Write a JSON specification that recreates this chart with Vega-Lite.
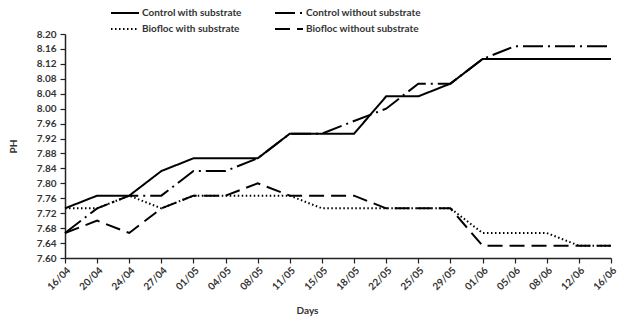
{
  "$schema": "https://vega.github.io/schema/vega-lite/v6.json",
  "autosize": {"type": "none"},
  "width": 546,
  "height": 224,
  "padding": {"left": 65, "top": 34, "right": 13, "bottom": 65},
  "background": "white",
  "config": {
    "view": {"stroke": null},
    "font": "Lato",
    "axis": {
      "domainColor": "#222", "domainWidth": 1.5, "tickColor": "#222", "tickWidth": 1.2,
      "labelFont": "Lato", "labelFontWeight": "bold", "labelColor": "#333", "labelFontSize": 10,
      "titleFont": "Lato", "titleFontWeight": "bold", "titleColor": "#333", "titleFontSize": 10,
      "grid": false
    },
    "legend": {
      "labelFont": "Lato", "labelFontWeight": "bold", "labelColor": "#333", "labelFontSize": 10
    }
  },
  "data": {
    "values": [
      {"date": "16/04", "series": "Control with substrate", "ph": 7.733},
      {"date": "20/04", "series": "Control with substrate", "ph": 7.767},
      {"date": "24/04", "series": "Control with substrate", "ph": 7.767},
      {"date": "27/04", "series": "Control with substrate", "ph": 7.833},
      {"date": "01/05", "series": "Control with substrate", "ph": 7.867},
      {"date": "04/05", "series": "Control with substrate", "ph": 7.867},
      {"date": "08/05", "series": "Control with substrate", "ph": 7.867},
      {"date": "11/05", "series": "Control with substrate", "ph": 7.933},
      {"date": "15/05", "series": "Control with substrate", "ph": 7.933},
      {"date": "18/05", "series": "Control with substrate", "ph": 7.933},
      {"date": "22/05", "series": "Control with substrate", "ph": 8.033},
      {"date": "25/05", "series": "Control with substrate", "ph": 8.033},
      {"date": "29/05", "series": "Control with substrate", "ph": 8.067},
      {"date": "01/06", "series": "Control with substrate", "ph": 8.133},
      {"date": "05/06", "series": "Control with substrate", "ph": 8.133},
      {"date": "08/06", "series": "Control with substrate", "ph": 8.133},
      {"date": "12/06", "series": "Control with substrate", "ph": 8.133},
      {"date": "16/06", "series": "Control with substrate", "ph": 8.133},

      {"date": "16/04", "series": "Control without substrate", "ph": 7.667},
      {"date": "20/04", "series": "Control without substrate", "ph": 7.733},
      {"date": "24/04", "series": "Control without substrate", "ph": 7.767},
      {"date": "27/04", "series": "Control without substrate", "ph": 7.767},
      {"date": "01/05", "series": "Control without substrate", "ph": 7.833},
      {"date": "04/05", "series": "Control without substrate", "ph": 7.833},
      {"date": "08/05", "series": "Control without substrate", "ph": 7.867},
      {"date": "11/05", "series": "Control without substrate", "ph": 7.933},
      {"date": "15/05", "series": "Control without substrate", "ph": 7.933},
      {"date": "18/05", "series": "Control without substrate", "ph": 7.967},
      {"date": "22/05", "series": "Control without substrate", "ph": 8.0},
      {"date": "25/05", "series": "Control without substrate", "ph": 8.067},
      {"date": "29/05", "series": "Control without substrate", "ph": 8.067},
      {"date": "01/06", "series": "Control without substrate", "ph": 8.133},
      {"date": "05/06", "series": "Control without substrate", "ph": 8.167},
      {"date": "08/06", "series": "Control without substrate", "ph": 8.167},
      {"date": "12/06", "series": "Control without substrate", "ph": 8.167},
      {"date": "16/06", "series": "Control without substrate", "ph": 8.167},

      {"date": "16/04", "series": "Biofloc with substrate", "ph": 7.733},
      {"date": "20/04", "series": "Biofloc with substrate", "ph": 7.733},
      {"date": "24/04", "series": "Biofloc with substrate", "ph": 7.767},
      {"date": "27/04", "series": "Biofloc with substrate", "ph": 7.733},
      {"date": "01/05", "series": "Biofloc with substrate", "ph": 7.767},
      {"date": "04/05", "series": "Biofloc with substrate", "ph": 7.767},
      {"date": "08/05", "series": "Biofloc with substrate", "ph": 7.767},
      {"date": "11/05", "series": "Biofloc with substrate", "ph": 7.767},
      {"date": "15/05", "series": "Biofloc with substrate", "ph": 7.733},
      {"date": "18/05", "series": "Biofloc with substrate", "ph": 7.733},
      {"date": "22/05", "series": "Biofloc with substrate", "ph": 7.733},
      {"date": "25/05", "series": "Biofloc with substrate", "ph": 7.733},
      {"date": "29/05", "series": "Biofloc with substrate", "ph": 7.733},
      {"date": "01/06", "series": "Biofloc with substrate", "ph": 7.667},
      {"date": "05/06", "series": "Biofloc with substrate", "ph": 7.667},
      {"date": "08/06", "series": "Biofloc with substrate", "ph": 7.667},
      {"date": "12/06", "series": "Biofloc with substrate", "ph": 7.633},
      {"date": "16/06", "series": "Biofloc with substrate", "ph": 7.633},

      {"date": "16/04", "series": "Biofloc without substrate", "ph": 7.667},
      {"date": "20/04", "series": "Biofloc without substrate", "ph": 7.7},
      {"date": "24/04", "series": "Biofloc without substrate", "ph": 7.667},
      {"date": "27/04", "series": "Biofloc without substrate", "ph": 7.733},
      {"date": "01/05", "series": "Biofloc without substrate", "ph": 7.767},
      {"date": "04/05", "series": "Biofloc without substrate", "ph": 7.767},
      {"date": "08/05", "series": "Biofloc without substrate", "ph": 7.8},
      {"date": "11/05", "series": "Biofloc without substrate", "ph": 7.767},
      {"date": "15/05", "series": "Biofloc without substrate", "ph": 7.767},
      {"date": "18/05", "series": "Biofloc without substrate", "ph": 7.767},
      {"date": "22/05", "series": "Biofloc without substrate", "ph": 7.733},
      {"date": "25/05", "series": "Biofloc without substrate", "ph": 7.733},
      {"date": "29/05", "series": "Biofloc without substrate", "ph": 7.733},
      {"date": "01/06", "series": "Biofloc without substrate", "ph": 7.633},
      {"date": "05/06", "series": "Biofloc without substrate", "ph": 7.633},
      {"date": "08/06", "series": "Biofloc without substrate", "ph": 7.633},
      {"date": "12/06", "series": "Biofloc without substrate", "ph": 7.633},
      {"date": "16/06", "series": "Biofloc without substrate", "ph": 7.633}
    ]
  },
  "mark": {"type": "line", "color": "black", "strokeWidth": 2},
  "encoding": {
    "x": {
      "field": "date", "type": "ordinal",
      "sort": ["16/04","20/04","24/04","27/04","01/05","04/05","08/05","11/05","15/05","18/05","22/05","25/05","29/05","01/06","05/06","08/06","12/06","16/06"],
      "scale": {"type": "point", "padding": 0},
      "axis": {"title": "Days", "labelAngle": -45, "labelAlign": "right", "labelBaseline": "top", "labelPadding": 2, "tickSize": 5, "titleX": 242, "titleY": 52, "titleBaseline": "middle"}
    },
    "y": {
      "field": "ph", "type": "quantitative",
      "scale": {"domain": [7.6, 8.2], "nice": false, "zero": false},
      "axis": {"title": "PH", "values": [7.60,7.64,7.68,7.72,7.76,7.80,7.84,7.88,7.92,7.96,8.00,8.04,8.08,8.12,8.16,8.20], "format": ".2f", "tickSize": 5, "labelPadding": 4, "titleX": -52, "titleY": 112, "titleBaseline": "middle", "titleAlign": "center", "titleAngle": -90}
    },
    "strokeDash": {
      "field": "series", "type": "nominal",
      "scale": {
        "domain": ["Control with substrate", "Control without substrate", "Biofloc with substrate", "Biofloc without substrate"],
        "range": [[1, 0], [20, 5, 2, 5], [1.5, 2.5], [15, 7]]
      },
      "legend": {
        "title": null, "orient": "none", "legendX": 52, "legendY": -29, "columns": 2,
        "direction": "horizontal",
        "symbolType": "M-2,0H2", "symbolSize": 196, "symbolStrokeWidth": 2, "symbolStrokeColor": "black",
        "labelOffset": 9, "rowPadding": 3, "columnPadding": 29
      }
    }
  }
}
